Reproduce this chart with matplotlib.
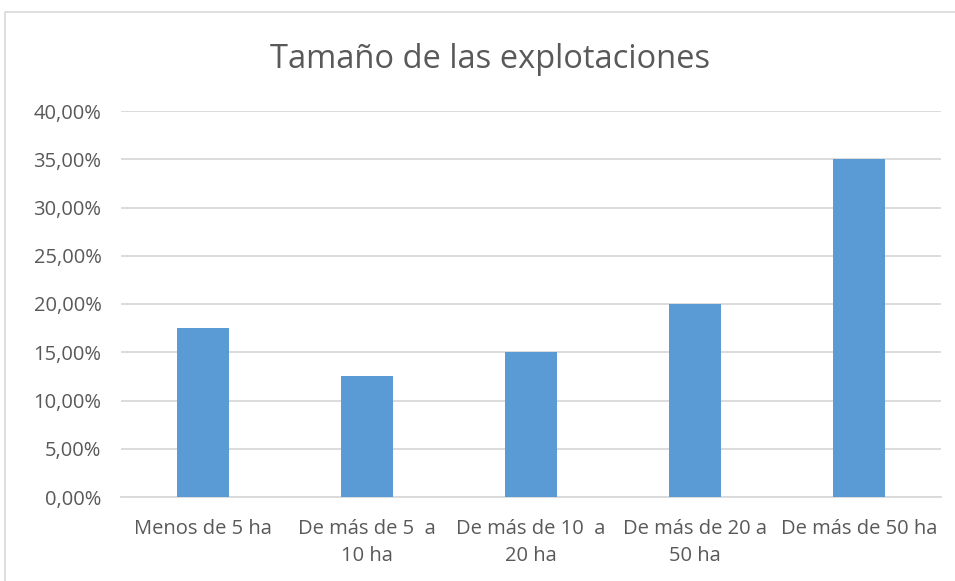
import matplotlib
matplotlib.use("Agg")
import matplotlib.pyplot as plt
from matplotlib.patches import Rectangle
from matplotlib.ticker import FuncFormatter

categories = ["Menos de 5 ha", "De más de 5  a\n10 ha", "De más de 10  a\n20 ha",
              "De más de 20 a\n50 ha", "De más de 50 ha"]
values = [0.175, 0.125, 0.15, 0.20, 0.35]
yticks = [0.0, 0.05, 0.10, 0.15, 0.20, 0.25, 0.30, 0.35, 0.40]
title = "Tamaño de las explotaciones"

plt.rcParams['font.family'] = ['Open Sans', 'DejaVu Sans']
txt = "#595959"
grid = "#d9d9d9"

fig = plt.figure(figsize=(9.55, 5.81), dpi=100)
fig.patches.append(Rectangle((5/955, -0.1), 1.2, (581-12)/581 + 0.1, transform=fig.transFigure,
                             fill=False, edgecolor=grid, linewidth=1.2))
ax = fig.add_axes([121/955, 1-497/581, (941-121)/955, (497-111)/581])
x = range(len(categories))
ax.bar(x, values, width=0.32, color="#5b9bd5", zorder=3)
ax.set_xlim(-0.5, len(categories)-0.5)
ax.set_ylim(0, 0.40)
ax.set_yticks(yticks)
ax.yaxis.set_major_formatter(FuncFormatter(lambda v, p: f"{v*100:.2f}%".replace(".", ",")))
ax.set_xticks(list(x))
ax.set_xticklabels(categories, fontsize=14.5, color=txt, linespacing=1.45)
ax.tick_params(axis='y', labelsize=14.5, labelcolor=txt, length=0, pad=14)
ax.tick_params(axis='x', length=0, pad=16)
ax.grid(axis='y', color=grid, linewidth=1.3, zorder=0)
for s in ['top', 'right', 'left']:
    ax.spines[s].set_visible(False)
ax.spines['bottom'].set_color(grid)
ax.spines['bottom'].set_linewidth(1.3)
fig.text(490/955, 1-60/581, title, ha='center', va='center', fontsize=23.5, color=txt)
fig.savefig("out.png", dpi=100)
